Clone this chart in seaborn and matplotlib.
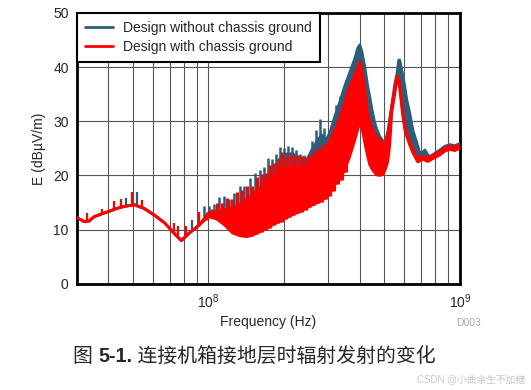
import numpy as np
import pandas as pd
import seaborn as sns
import matplotlib.pyplot as plt
from matplotlib.lines import Line2D

# values (frequency in MHz, E in dBuV/m)
freq_mhz = [30, 32.1, 33.5, 35.1, 37.5, 40.3, 43, 46.3, 50.7, 55.6, 60.9, 66.8, 73.2, 78.0, 84.0, 92.1,
            100, 107.6, 115.8, 124.6, 132.9, 141.7, 149.7, 159.7, 170.2, 179.8, 191.7, 204.5, 216.1,
            230.5, 245.7, 259.6, 271.8, 282, 292.5, 303.5, 317.8, 332.6, 348.3, 364.6, 381.8, 392.5,
            399.8, 407.2, 418.8, 430, 437.9, 450, 458.6, 467.3, 480.4, 493.4, 502.3, 516.5, 526.1,
            535.9, 550.8, 561, 571.5, 576.8, 592.9, 604, 615, 632.2, 650, 680, 693.4, 712.8, 726,
            746.4, 759.5, 795.3, 832.8, 871.3, 912.6, 955.4, 1000]
# red trace ("with chassis ground"): lower edge and solid upper edge of the band
red_low = [12.2, 11.5, 11.6, 12.4, 12.9, 13.4, 13.9, 14.3, 14.6, 13.9, 12.7, 11.3, 9.3, 8.0, 9.4, 10.9,
           12.4, 12.0, 10.9, 9.4, 8.9, 8.7, 9.0, 9.6, 10.2, 10.9, 11.5, 12.2, 12.8,
           13.3, 14.0, 14.6, 15.0, 15.4, 15.9, 16.5, 18.3, 19.2, 21.0, 23.5, 26.5, 28.5,
           29.7, 29.0, 26.0, 23.5, 22.0, 21.0, 20.5, 20.1, 20.0, 20.2, 20.8, 22.5, 25.5,
           31.5, 35.0, 37.5, 37.0, 36.0, 31.0, 28.5, 27.2, 25.6, 24.2, 22.5, 22.7, 23.0, 22.8,
           22.6, 22.8, 23.3, 23.8, 24.5, 24.8, 24.6, 25.0]
red_high = [12.2, 11.5, 11.6, 12.4, 12.9, 13.4, 13.9, 14.3, 14.6, 13.9, 12.7, 11.3, 9.3, 8.0, 9.4, 10.9,
            13.0, 13.4, 13.6, 14.0, 14.6, 15.5, 16.5, 17.5, 18.8, 19.8, 21.0, 21.5, 21.5,
            21.5, 21.8, 23.0, 23.8, 24.3, 25.0, 26.3, 28.3, 30.5, 33.5, 36.4, 38.5, 40.0,
            41.0, 39.5, 36.0, 31.5, 30.0, 28.4, 27.8, 27.0, 26.6, 26.0, 25.8, 27.5, 29.5,
            32.7, 35.8, 38.3, 37.8, 36.6, 31.6, 29.2, 27.8, 26.2, 24.8, 23.1, 23.3, 23.6, 23.4,
            23.2, 23.4, 23.9, 24.4, 25.1, 25.4, 25.2, 25.6]
# blue trace ("without chassis ground"): solid upper edge, its lower edge is hidden under red
blue_high = [12.2, 11.5, 11.6, 12.4, 12.9, 13.4, 13.9, 14.3, 14.6, 13.9, 12.7, 11.3, 9.3, 8.0, 9.4, 10.9,
             13.0, 13.4, 13.6, 14.0, 14.6, 15.5, 16.5, 17.5, 19.5, 21.0, 23.0, 24.0, 24.0,
             23.3, 22.8, 25.0, 26.5, 27.5, 26.5, 27.8, 30.8, 33.5, 36.5, 39.0, 41.5, 43.5,
             44.1, 43.0, 40.0, 36.5, 34.6, 31.5, 29.8, 28.5, 27.2, 26.4, 26.0, 28.0, 30.5,
             33.0, 36.8, 38.5, 41.3, 41.3, 38.5, 36.4, 34.0, 31.5, 28.4, 25.5, 24.1, 24.3, 24.7,
             23.8, 23.5, 24.1, 24.7, 25.4, 25.7, 25.5, 25.9]

# comb of harmonics above the solid band (tooth tops for both designs)
tooth_mhz = [96.4, 100.9, 105.7, 110.6, 115.8, 121.2, 126.9, 132.9, 139.1, 145.7, 152.5, 159.7, 165.6,
             171.9, 178.2, 184.9, 191.8, 199.0, 206.4, 214.1, 222.2, 230.5, 239.0, 248.0, 257.3, 266.9,
             276.8, 287.2, 297.9, 309.0, 320.6, 332.6, 345.1]
tooth_blue = [14.3, 14.4, 14.8, 16.0, 16.3, 15.6, 16.8, 18.0, 18.1, 19.5, 20.5, 21.0, 21.6,
              23.2, 23.0, 24.0, 25.2, 25.0, 25.5, 25.2, 24.7, 24.0, 23.8, 23.6, 26.3, 28.4,
              30.4, 28.7, 27.5, 29.0, 33.0, 34.6, 36.0]
tooth_red = [13.3, 13.8, 15.0, 15.0, 15.8, 15.6, 16.9, 17.3, 18.0, 18.0, 19.8, 20.2, 20.4,
             22.0, 22.3, 22.8, 24.4, 23.5, 24.0, 23.8, 23.6, 23.6, 23.4, 23.7, 24.6, 25.0,
             25.6, 26.0, 27.0, 28.3, 29.8, 31.0, 33.5]

# narrow spikes on the low-frequency part
red_spike_mhz = [33.0, 37.6, 42.2, 45.0, 49.7, 54.5, 73.2, 75.9, 81.7, 92.1]
red_spike_top = [13.1, 13.8, 15.3, 15.6, 17.0, 15.5, 11.2, 10.6, 10.6, 13.3]
blue_spike_mhz = [47.0, 52.0, 86.4]
blue_spike_top = [15.8, 17.0, 11.8]

legend_labels = ['Design without chassis ground', 'Design with chassis ground']
colors = {'blue': '#2c5d79', 'red': '#ff0000'}

sns.set_style('white')
plt.rcParams['font.family'] = ['Liberation Sans', 'Noto Sans CJK SC', 'DejaVu Sans']

f_hz = np.array(freq_mhz) * 1e6
df = pd.DataFrame({
    'Frequency': np.concatenate([f_hz, f_hz, f_hz]),
    'E': np.concatenate([blue_high, red_low, red_high]),
    'trace': ['blue_high'] * len(f_hz) + ['red_low'] * len(f_hz) + ['red_high'] * len(f_hz),
    'design': ['blue'] * len(f_hz) + ['red'] * (2 * len(f_hz)),
})


def base_at(fm):
    # lower edge of the band under a spike
    return np.interp(np.log10(fm), np.log10(freq_mhz), red_low)


fig = plt.figure(figsize=(5.31, 3.90), dpi=100)
ax = fig.add_axes([0.145, 0.272, 0.721, 0.695])

# blue behind
ax.fill_between(f_hz, red_low, blue_high, color=colors['blue'], lw=0, zorder=2)
ax.vlines(np.array(blue_spike_mhz) * 1e6, base_at(blue_spike_mhz), blue_spike_top,
          color=colors['blue'], lw=1.6, zorder=2)
ax.vlines(np.array(tooth_mhz) * 1e6, base_at(tooth_mhz), tooth_blue,
          color=colors['blue'], lw=1.8, zorder=2)
sns.lineplot(data=df[df.design == 'blue'], x='Frequency', y='E', color=colors['blue'],
             estimator=None, lw=2.0, ax=ax, zorder=3, legend=False)
# red on top
ax.fill_between(f_hz, red_low, red_high, color=colors['red'], lw=0, zorder=4)
sns.lineplot(data=df[df.design == 'red'], x='Frequency', y='E', units='trace', color=colors['red'],
             estimator=None, lw=2.0, ax=ax, zorder=5, legend=False)
ax.vlines(np.array(red_spike_mhz) * 1e6, base_at(red_spike_mhz), red_spike_top,
          color=colors['red'], lw=1.6, zorder=5)
ax.vlines(np.array(tooth_mhz) * 1.025e6, base_at(tooth_mhz), tooth_red,
          color=colors['red'], lw=2.2, zorder=5)

ax.set_xscale('log')
ax.set_xlim(3e7, 1e9)
ax.set_ylim(0, 50)
ax.set_yticks([0, 10, 20, 30, 40, 50])
ax.set_xticks([1e8, 1e9])
ax.set_xticks([k * 10 ** e for e in (7, 8) for k in range(2, 10) if 3e7 < k * 10 ** e < 1e9], minor=True)
ax.grid(True, which='both', color='#555555', lw=0.8, zorder=1)
ax.tick_params(which='both', length=0, labelsize=10, pad=6)
for s in ax.spines.values():
    s.set_color('black')
    s.set_linewidth(2)
ax.set_xlabel('Frequency (Hz)', fontsize=10, labelpad=3)
ax.set_ylabel('E (dB\u00b5V/m)', fontsize=10, labelpad=5)

handles = [Line2D([], [], color=colors['blue'], lw=2), Line2D([], [], color=colors['red'], lw=2)]
leg = ax.legend(handles, legend_labels, loc='upper left', bbox_to_anchor=(0, 1), borderaxespad=0,
                fancybox=False, framealpha=1, edgecolor='black', fontsize=10, handlelength=2.0,
                handletextpad=0.7, labelspacing=0.35, borderpad=0.6)
leg.get_frame().set_linewidth(1.5)
leg.set_zorder(10)

fig.text(0.882, 0.163, 'D003', fontsize=7.5, color='#aaaaaa', ha='center')
t1 = fig.text(0.137, 0.073, '图 ', fontsize=14.3)
t2 = ax.annotate('5-1.', xy=(1, 0), xycoords=t1, va='bottom', fontsize=14.3, fontweight='bold',
                 annotation_clip=False)
ax.annotate(' 连接机箱接地层时辐射发射的变化', xy=(1, 0), xycoords=t2, va='bottom', fontsize=14.3,
            annotation_clip=False)
fig.text(0.99, 0.02, 'CSDN @小曲余生不加糖', fontsize=7, color='#c8c8c8', ha='right')

fig.savefig('out.png', dpi=100)
